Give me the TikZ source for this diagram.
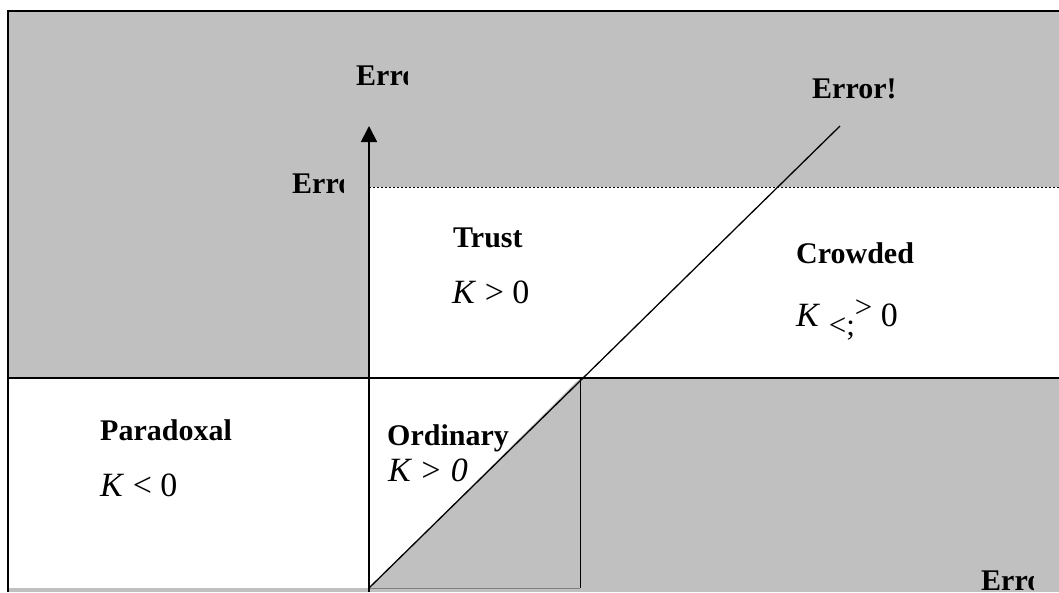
\documentclass[tikz,border=0pt]{standalone}
\usepackage{fontspec}
\setmainfont{Liberation Serif}
\usetikzlibrary{arrows.meta}
\definecolor{silver}{HTML}{C0C0C0}

\begin{document}
\begin{tikzpicture}[x=1pt,y=-1pt,
    lbl/.style={anchor=base west, inner sep=0pt, font=\fontsize{30}{36}\selectfont\bfseries},
    klbl/.style={anchor=base west, inner sep=0pt, font=\fontsize{34}{40}\selectfont}]
        % Khung va nen xam
        \useasboundingbox (0,0) rectangle (1059,592);
        \fill[silver] (8,11) rectangle (1059,592);

        % Cac diem chinh
        \coordinate (O) at (369,588);
        \coordinate (C) at (580,378);
        \coordinate (bot) at (369,592);
        \coordinate (top) at (369,126);
        \coordinate (D) at (840,126);

        % Vung trang: Paradoxal, Trust/Crowded, Ordinary
        \fill[white] (8,378) rectangle (369,588);
        \fill[white] (369,187) rectangle (1059,378);
        \fill[white] (369,378) -- (C) -- (O) -- cycle;

        % Duong ke
        \draw[line width=1.3pt] (8,592) -- (8,11) -- (1059,11);
        \draw[line width=1.5pt] (8,378) -- (1059,378);
        \draw[line width=0.8pt, dash pattern=on 2pt off 2pt] (369,187) -- (1059,187);
        \draw[line width=0.8pt] (C) -- (580,588);
        \draw[line width=0.6pt, gray] (O) -- (580,588);
        \draw[line width=1.3pt] (O) -- (D);
        \draw[line width=1.8pt, -{Triangle[length=16pt,width=16pt]}] (bot) -- (top);

        % Nhan vung
        \node[lbl] (trust) at (453,247) {Trust};
        \node[klbl] (ktrust) at (452,303) {\textit{K} > 0};
        \node[lbl] (crowded) at (796,263) {Crowded};
        \node[klbl] (kcrowded) at (796,326) {\textit{K} \raisebox{-9pt}{\fontsize{31}{34}\selectfont<;}\raisebox{9pt}{\fontsize{31}{34}\selectfont>} 0};
        \node[lbl] (paradox) at (100,440) {Paradoxal};
        \node[klbl] (kparadox) at (100,496) {\textit{K} < 0};
        \node[lbl] (ordinary) at (387,445) {Ordinary};
        \node[klbl] (kordinary) at (388,481) {\textit{K > 0}};

        % Nhan loi (bi cat)
        \node[lbl] (errdiag) at (812,98) {Error!};
        \begin{scope}
            \clip (350,50) rectangle (407,100);
            \node[lbl] (errtop) at (356,85) {Error!};
        \end{scope}
        \begin{scope}
            \clip (285,160) rectangle (343,205);
            \node[lbl] (errleft) at (292,193) {Error!};
        \end{scope}
        \begin{scope}
            \clip (975,555) rectangle (1033,592);
            \node[lbl] (errbot) at (981,590) {Error!};
        \end{scope}
\end{tikzpicture}
\end{document}
